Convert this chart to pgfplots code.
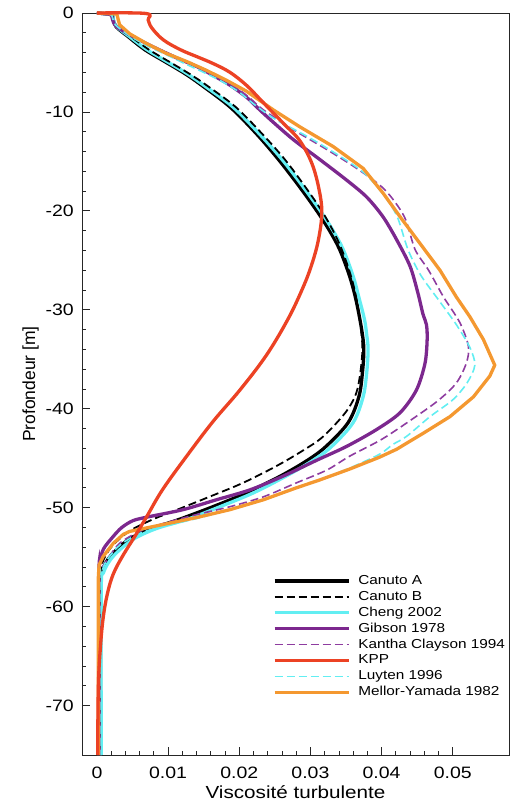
\documentclass[border=0pt]{standalone}
\usepackage{fontspec}
\setmainfont{Liberation Sans}[FakeStretch=1.18]
\newfontfamily\ylfont{Liberation Sans}
\usepackage{pgfplots}
\pgfplotsset{compat=1.18}
\definecolor{ccyan}{RGB}{98,238,242}
\definecolor{cpurple}{RGB}{124,40,142}
\definecolor{cpurpled}{RGB}{142,60,160}
\definecolor{cred}{RGB}{236,66,36}
\definecolor{corange}{RGB}{244,152,48}
\begin{document}
\begin{tikzpicture}
\begin{axis}[
  at={(0,0)}, anchor=south west,
  scale only axis, width=427pt, height=742pt,
  xmin=-0.0021, xmax=0.0579, ymin=-75, ymax=0,
  clip=false, scaled x ticks=false, scaled y ticks=false,
  axis line style={line width=0.9pt, color=black!85},
  xtick={0,0.01,0.02,0.03,0.04,0.05},
  xticklabels={0,0.01,0.02,0.03,0.04,0.05},
  ytick={-70,-60,-50,-40,-30,-20,-10,0},
  yticklabels={-70,-60,-50,-40,-30,-20,-10,0},
  minor x tick num=4, minor y tick num=4,
  tick align=inside, xtick pos=left, ytick pos=left,
  major tick length=8pt, minor tick length=4pt,
  every tick/.style={line width=0.8pt, black!85},
  xticklabel style={inner sep=0pt, yshift=-12pt, font=\fontsize{16.5}{18}\selectfont},
  yticklabel style={inner sep=0pt, xshift=-8pt, font=\fontsize{16.5}{18}\selectfont},
  xlabel={Viscosité turbulente},
  ylabel={Profondeur [m]},
  xlabel style={at={(axis description cs:0.5,0)}, anchor=base, yshift=-43pt, inner sep=0pt, font=\fontsize{17.5}{19}\selectfont},
  ylabel style={at={(axis description cs:-0.1206,0.5)}, anchor=center, inner sep=0pt, font=\ylfont\fontsize{17.5}{19}\selectfont},
  legend image code/.code={\draw[#1] (0pt,0pt) -- (74pt,0pt);},
  legend cell align=left,
  legend style={draw=none, fill=none, at={(rel axis cs:0.4473,0.2433)}, anchor=north west,
    inner sep=0pt, outer sep=0pt, row sep=2.9pt,
    nodes={inner sep=0pt, text height=10pt, text depth=3pt, font=\fontsize{13}{15}\selectfont},
    /tikz/every odd column/.append style={column sep=8pt}},
]
\addlegendimage{black, line width=3.3pt}
\addlegendentry{Canuto A}
\addlegendimage{black, line width=1.8pt, dash pattern=on 8pt off 4pt}
\addlegendentry{Canuto B}
\addlegendimage{ccyan, line width=3.3pt}
\addlegendentry{Cheng 2002}
\addlegendimage{cpurple, line width=3.3pt}
\addlegendentry{Gibson 1978}
\addlegendimage{cpurpled, line width=1.6pt, dash pattern=on 8pt off 4pt}
\addlegendentry{Kantha Clayson 1994}
\addlegendimage{cred, line width=3.3pt}
\addlegendentry{KPP}
\addlegendimage{ccyan, line width=1.6pt, dash pattern=on 8pt off 4pt}
\addlegendentry{Luyten 1996}
\addlegendimage{corange, line width=3.3pt}
\addlegendentry{Mellor-Yamada 1982}

% Canuto A
\addplot[forget plot, black, line width=3.3pt, smooth, tension=0.55] coordinates {
(0,0) (0.0021,-0.2) (0.0023,-0.7) (0.0027,-1.4) (0.0044,-2.4) (0.0067,-3.7) (0.0095,-4.9)
(0.0123,-6.1) (0.0147,-7.3) (0.0187,-9.5) (0.0224,-12.2) (0.0255,-14.8) (0.0284,-17.5)
(0.0308,-19.9) (0.0326,-21.9) (0.0341,-23.9) (0.0355,-26.6) (0.0364,-29.0) (0.0372,-32.0)
(0.0375,-34.0) (0.0373,-36.4) (0.0368,-38.8) (0.0353,-41.4) (0.0322,-43.8) (0.0296,-45.2)
(0.0258,-46.8) (0.0210,-48.5) (0.0163,-49.9) (0.0115,-51.2) (0.0078,-52.1) (0.0045,-53.2)
(0.0019,-54.9) (0.0008,-56.3) (0.0005,-58) (0.0005,-75)};
% Cheng 2002
\addplot[forget plot, ccyan, line width=3.3pt, smooth, tension=0.55] coordinates {
(0,0) (0.0021,-0.2) (0.0023,-0.7) (0.0028,-1.4) (0.0046,-2.4) (0.0070,-3.7) (0.0098,-4.9)
(0.0126,-6.1) (0.0150,-7.3) (0.0191,-9.5) (0.0228,-12.2) (0.0260,-14.8) (0.0289,-17.5)
(0.0313,-19.9) (0.0331,-21.9) (0.0346,-23.9) (0.0360,-26.6) (0.0369,-29.0) (0.0376,-31.0)
(0.0379,-32.5) (0.0381,-34.0) (0.0379,-36.4) (0.0374,-38.8) (0.0360,-41.4) (0.0330,-43.8)
(0.0304,-45.2) (0.0266,-46.8) (0.0220,-48.5) (0.0173,-49.9) (0.0126,-51.2) (0.0084,-52.1)
(0.0051,-53.2) (0.0023,-54.9) (0.0009,-56.6) (0.0006,-58.5) (0.0006,-75)};
% Canuto B
\addplot[forget plot, black, line width=1.8pt, dash pattern=on 8pt off 4pt, smooth, tension=0.55] coordinates {
(0,0) (0.0021,-0.2) (0.0023,-0.7) (0.0028,-1.4) (0.0048,-2.4) (0.0073,-3.7) (0.0101,-4.9)
(0.0129,-6.1) (0.0154,-7.3) (0.0195,-9.5) (0.0232,-12.2) (0.0264,-14.8) (0.0292,-17.5)
(0.0315,-19.9) (0.0331,-21.9) (0.0344,-23.9) (0.0357,-26.6) (0.0365,-29.0) (0.0371,-32.0)
(0.0373,-34.0) (0.0370,-36.4) (0.0364,-38.5) (0.0349,-40.4) (0.0318,-42.8) (0.0290,-44.2)
(0.0252,-45.8) (0.0205,-47.5) (0.0158,-48.9) (0.0113,-50.2) (0.0078,-51.2) (0.0045,-52.4)
(0.0020,-54.0) (0.0008,-55.5) (0.0004,-57) (0.0004,-75)};
% Gibson 1978
\addplot[forget plot, cpurple, line width=3.3pt, smooth, tension=0.5] coordinates {
(0,0) (0.0019,-0.15) (0.0021,-0.4) (0.0023,-0.9) (0.0028,-1.4) (0.0046,-2.2) (0.0070,-3.1)
(0.0093,-3.9) (0.0117,-4.7) (0.0140,-5.4) (0.0163,-6.3) (0.0187,-7.3) (0.0210,-8.5)
(0.0226,-9.6) (0.0244,-10.8) (0.0276,-12.8) (0.0313,-14.8) (0.0351,-16.9) (0.0379,-18.6)
(0.0402,-20.6) (0.0421,-22.9) (0.0440,-25.6) (0.0451,-28.3) (0.0458,-30.4) (0.0463,-31.5)
(0.0464,-33.0) (0.0461,-35.4) (0.0449,-38.1) (0.0426,-40.4) (0.0393,-42.1) (0.0351,-43.8)
(0.0309,-45.2) (0.0262,-46.8) (0.0215,-48.2) (0.0168,-49.2) (0.0121,-50.2) (0.0074,-50.9)
(0.0051,-51.3) (0.0035,-52.0) (0.0023,-52.9) (0.0009,-54.2) (0.0004,-55.6) (0.0003,-57) (0.0003,-75)};
% Kantha Clayson 1994
\addplot[forget plot, cpurpled, line width=1.6pt, dash pattern=on 8pt off 4pt, smooth, tension=0.5] coordinates {
(0,0) (0.0019,-0.15) (0.0022,-0.5) (0.0026,-1.2) (0.0046,-2.2) (0.0070,-3.1) (0.0095,-3.9)
(0.0120,-4.7) (0.0145,-5.5) (0.0170,-6.4) (0.0195,-7.5) (0.0215,-8.6) (0.0234,-9.8)
(0.0276,-11.8) (0.0323,-13.8) (0.0369,-15.9) (0.0405,-17.9) (0.0432,-20.6) (0.0447,-23.9)
(0.0466,-26.0) (0.0487,-28.7) (0.0510,-31.3) (0.0522,-33.7) (0.0519,-35.4) (0.0505,-37.4)
(0.0479,-39.2) (0.0440,-41.2) (0.0400,-43.1) (0.0355,-44.8) (0.0323,-46.2) (0.0280,-47.5)
(0.0234,-48.9) (0.0187,-49.9) (0.0140,-50.7) (0.0093,-51.6) (0.0060,-52.4) (0.0032,-53.6)
(0.0014,-55.3) (0.0005,-56.5) (0.0004,-58) (0.0004,-75)};
% Luyten 1996
\addplot[forget plot, ccyan, line width=1.6pt, dash pattern=on 8pt off 4pt, smooth, tension=0.5] coordinates {
(0,0) (0.0019,-0.15) (0.0022,-0.5) (0.0026,-1.2) (0.0046,-2.3) (0.0070,-3.3) (0.0097,-4.2)
(0.0123,-5.1) (0.0150,-6.0) (0.0175,-6.9) (0.0200,-8.0) (0.0222,-9.3) (0.0252,-10.8)
(0.0296,-12.5) (0.0342,-14.5) (0.0376,-16.2) (0.0403,-18.4) (0.0422,-20.6) (0.0437,-23.9)
(0.0455,-26.5) (0.0480,-29.0) (0.0505,-31.5) (0.0524,-33.8) (0.0531,-35.6) (0.0520,-37.4)
(0.0500,-39.1) (0.0468,-40.8) (0.0435,-42.8) (0.0416,-43.6) (0.0397,-44.6) (0.0355,-46.0)
(0.0313,-47.2) (0.0280,-48.0) (0.0234,-49.2) (0.0187,-50.2) (0.0140,-51.1) (0.0093,-51.9)
(0.0060,-52.6) (0.0032,-53.8) (0.0014,-55.3) (0.0006,-56.7) (0.0006,-58) (0.0006,-75)};
% Mellor-Yamada 1982
\addplot[forget plot, corange, line width=3.3pt, line join=round] coordinates {
(0,0) (0.0028,-0.1) (0.0030,-0.7) (0.0032,-1.2) (0.0046,-2.1) (0.0070,-3.1) (0.0098,-4.1)
(0.0126,-4.9) (0.0154,-5.8) (0.0182,-6.8) (0.0210,-7.9) (0.0248,-9.8) (0.0285,-11.5)
(0.0332,-13.5) (0.0374,-15.7) (0.0402,-18.2) (0.0426,-20.6) (0.0454,-23.3) (0.0482,-26.0)
(0.0505,-28.7) (0.0524,-30.7) (0.0543,-33.0) (0.0559,-35.6) (0.0552,-36.7) (0.0529,-38.8)
(0.0496,-40.8) (0.0458,-42.5) (0.0421,-44.1) (0.0397,-44.9) (0.0355,-46.1) (0.0313,-47.2)
(0.0280,-48.0) (0.0234,-49.2) (0.0187,-50.2) (0.0140,-51.0) (0.0093,-51.7) (0.0046,-52.4)
(0.0037,-52.7) (0.0023,-53.6) (0.0009,-54.9) (0.0003,-55.8) (0.0002,-57) (0.0002,-75)};
% KPP
\addplot[forget plot, cred, line width=3.3pt, smooth, tension=0.6] coordinates {
(0,0) (0.0069,-0.05) (0.0072,-0.7) (0.0077,-1.5) (0.0093,-2.7) (0.0117,-3.7) (0.0140,-4.4)
(0.0163,-5.1) (0.0187,-6.0) (0.0210,-7.3) (0.0229,-8.7) (0.0245,-9.9) (0.0264,-11.3)
(0.0285,-12.9) (0.0302,-15.2) (0.0312,-17.8) (0.0316,-20.2) (0.0311,-23.0) (0.0301,-25.6)
(0.0288,-28.0) (0.0268,-31.0) (0.0238,-34.6) (0.0201,-38.1) (0.0163,-41.3) (0.0126,-44.8)
(0.0092,-48.2) (0.0070,-50.9) (0.0055,-52.7) (0.0036,-54.9) (0.0023,-56.7)
(0.0015,-58.6) (0.0009,-61.0) (0.0005,-64) (0.0002,-68) (0.0001,-75)};
\end{axis}
\pgfresetboundingbox
\useasboundingbox (-82pt,-49pt) rectangle (427.5pt,755pt);
\end{tikzpicture}
\end{document}
